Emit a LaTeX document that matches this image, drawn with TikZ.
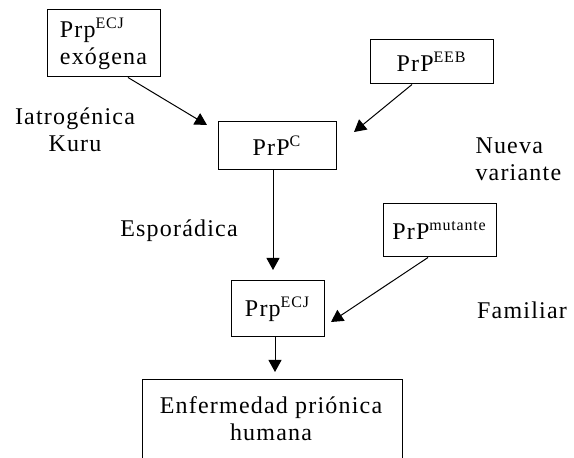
\documentclass[tikz,border=0pt]{standalone}
\usepackage{fontspec}
\setmainfont{Liberation Serif}[LetterSpace=5]
\usepackage{tikz}
\usetikzlibrary{arrows.meta,positioning,calc}
\definecolor{ink}{HTML}{000000}

\begin{document}
\begin{tikzpicture}[x=0.5pt,y=-0.5pt,line width=0.5pt,
  font=\fontsize{12}{13.5}\selectfont,
  caja/.style={draw=ink,inner sep=0pt,text=ink},
  rotulo/.style={inner sep=0pt,text=ink},
  flecha/.style={-{Triangle[length=6pt,width=6.5pt]},draw=ink}]
  \useasboundingbox (0,0) rectangle (574,458);
  \clip (0,0) rectangle (574,458);
  % cajas
  \node[caja,minimum width=56.5pt,minimum height=33.5pt,align=left] (exo) at (103.5,43.5) {Prp\textsuperscript{ECJ}\\exógena};
  \node[caja,minimum width=61.5pt,minimum height=22pt] (eeb) at (431.5,62) {PrP\textsuperscript{EEB}};
  \node[caja,minimum width=59pt,minimum height=24pt] (prpc) at (277,146) {PrP\textsuperscript{C}};
  \node[caja,minimum width=56.5pt,minimum height=26.5pt] (mut) at (439.5,230.5) {PrP\textsuperscript{mutante}};
  \node[caja,minimum width=46.5pt,minimum height=28pt] (ecj) at (277.5,309) {Prp\textsuperscript{ECJ}};
  \node[caja,minimum width=130pt,minimum height=60pt,anchor=north,align=center,text depth=0pt] (enf) at (272,379) {};
  \node[rotulo,align=center] (enft) at (271,419) {Enfermedad priónica\\humana};
  % rotulos
  \node[rotulo,align=center] (iatro) at (75,130) {Iatrogénica\\Kuru};
  \node[rotulo,align=left,anchor=west] (nueva) at (475,159) {Nueva\\variante};
  \node[rotulo] (espo) at (179,231) {Esporádica};
  \node[rotulo] (fami) at (522,310) {Familiar};
  % puntas
  \coordinate (p1) at (207,125);
  \coordinate (p2) at (354,132);
  \coordinate (p3) at (273,270);
  \coordinate (p4) at (331,322);
  \coordinate (p5) at (275,372);
  \draw[flecha] ([shift={(24.5,0)}]exo.south) -- (p1);
  \draw[flecha] ([shift={(-19.5,0)}]eeb.south) -- (p2);
  \draw[flecha] (prpc.south -| p3) -- (p3);
  \draw[flecha] ([shift={(-11.5,0)}]mut.south) -- (p4);
  \draw[flecha] (ecj.south -| p5) -- (p5);
\end{tikzpicture}
\end{document}
